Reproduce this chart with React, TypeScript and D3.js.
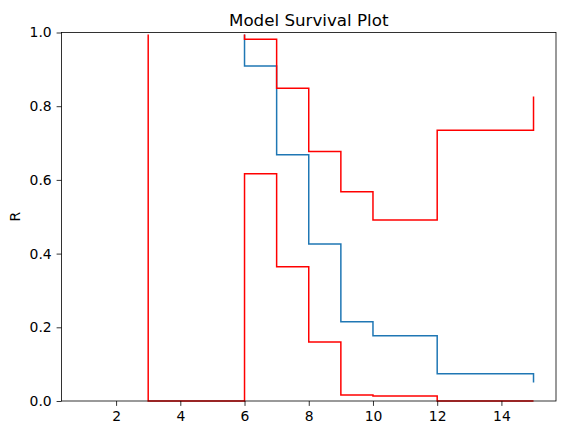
import { useRef, useEffect } from 'react';
import * as d3 from 'd3';

// time grid shared by all three curves
const times = [1, 3, 6, 7, 8, 9, 10, 12, 15];
const survival = [1.0, 1.0, 0.909, 0.668, 0.426, 0.215, 0.177, 0.074, 0.05];
const upperBound = [1.0, 1.0, 0.982, 0.849, 0.677, 0.568, 0.491, 0.735, 0.826];
const lowerBound = [1.0, 0.0, 0.617, 0.364, 0.16, 0.016, 0.0136, 0.0, 0.0];

const xTicks = [2, 4, 6, 8, 10, 12, 14];
const yTicks = [0, 0.2, 0.4, 0.6, 0.8, 1.0];

export default function App() {
  const ref = useRef<SVGSVGElement>(null);

  useEffect(() => {
    if (!ref.current) return;

    const width = 567;
    const height = 435;
    const margin = { top: 32.5, right: 11, bottom: 34, left: 61.5 };
    const font = 'DejaVu Sans, sans-serif';

    d3.select(ref.current).selectAll('*').remove();

    const svg = d3
      .select(ref.current)
      .attr('width', width)
      .attr('height', height);

    const x = d3
      .scaleLinear()
      .domain([0.3, 15.7])
      .range([margin.left, width - margin.right]);

    const y = d3
      .scaleLinear()
      .domain([0, 1])
      .range([height - margin.bottom, margin.top]);

    // clip below the top spine so values sitting at 1.0 stay hidden
    const clipTop = margin.top + 2;
    svg
      .append('clipPath')
      .attr('id', 'plot-clip')
      .append('rect')
      .attr('x', margin.left)
      .attr('y', clipTop)
      .attr('width', width - margin.left - margin.right)
      .attr('height', height - margin.bottom - clipTop + 2);

    const line = (vals: number[]) =>
      d3
        .line<number>()
        .x((_, i) => x(times[i]))
        .y((d) => y(d))
        .curve(d3.curveStepAfter)(vals);

    const plot = svg.append('g').attr('clip-path', 'url(#plot-clip)');

    const series = [
      { vals: survival, color: '#1f77b4' },
      { vals: upperBound, color: 'red' },
      { vals: lowerBound, color: 'red' },
    ];

    plot
      .selectAll('path')
      .data(series)
      .join('path')
      .attr('d', (d) => line(d.vals))
      .attr('fill', 'none')
      .attr('stroke', (d) => d.color)
      .attr('stroke-width', 1.5);

    const xAxis = svg
      .append('g')
      .attr('transform', `translate(0,${height - margin.bottom})`)
      .call(
        d3
          .axisBottom(x)
          .tickValues(xTicks)
          .tickSize(4.9)
          .tickPadding(4.9)
          .tickFormat(d3.format('d'))
      );

    const yAxis = svg
      .append('g')
      .attr('transform', `translate(${margin.left},0)`)
      .call(
        d3
          .axisLeft(y)
          .tickValues(yTicks)
          .tickSize(4.9)
          .tickPadding(4.9)
          .tickFormat(d3.format('.1f'))
      );

    [xAxis, yAxis].forEach((g) => {
      g.select('.domain').remove();
      g.selectAll('line').attr('stroke', 'black').attr('stroke-width', 0.8);
      g.selectAll('text')
        .attr('font-family', font)
        .attr('font-size', 13.9)
        .attr('fill', 'black');
    });

    // frame
    svg
      .append('rect')
      .attr('x', margin.left)
      .attr('y', margin.top)
      .attr('width', width - margin.left - margin.right)
      .attr('height', height - margin.top - margin.bottom)
      .attr('fill', 'none')
      .attr('stroke', 'black')
      .attr('stroke-width', 0.8);

    svg
      .append('text')
      .attr('x', (margin.left + width - margin.right) / 2)
      .attr('y', margin.top - 7)
      .attr('text-anchor', 'middle')
      .attr('font-family', font)
      .attr('font-size', 16.7)
      .text('Model Survival Plot');

    svg
      .append('text')
      .attr(
        'transform',
        `translate(20,${(margin.top + height - margin.bottom) / 2}) rotate(-90)`
      )
      .attr('text-anchor', 'middle')
      .attr('font-family', font)
      .attr('font-size', 13.9)
      .text('R');
  }, []);

  return (
    <div style={{ position: 'absolute', left: 0, top: 0, background: 'white' }}>
      <svg ref={ref}></svg>
    </div>
  );
}
